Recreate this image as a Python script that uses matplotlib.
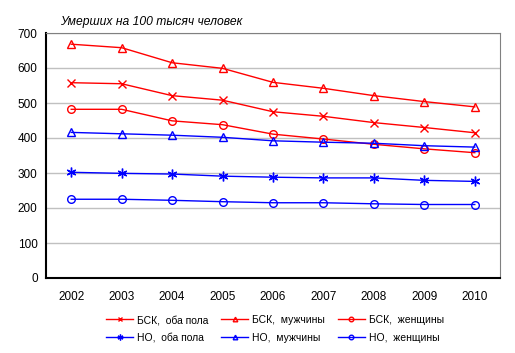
import numpy as np
import matplotlib.pyplot as plt

plt.rcParams['font.family'] = ['Liberation Sans', 'DejaVu Sans']

years = ['2002', '2003', '2004', '2005', '2006', '2007', '2008', '2009', '2010']

bsk_both = [558, 555, 521, 508, 475, 462, 444, 430, 415]
bsk_men = [668, 658, 615, 599, 559, 542, 521, 504, 489]
bsk_women = [482, 482, 449, 438, 411, 397, 382, 369, 358]
no_both = [302, 299, 297, 291, 288, 286, 286, 279, 276]
no_men = [416, 412, 408, 402, 392, 388, 385, 378, 374]
no_women = [225, 225, 222, 218, 215, 215, 212, 210, 210]

labels = ['БСК,  оба пола', 'БСК,  мужчины', 'БСК,  женщины',
          'НО,  оба пола', 'НО,  мужчины', 'НО,  женщины']

fig = plt.figure(figsize=(5.15, 3.53), dpi=100)
ax = fig.add_axes([46 / 515, 75 / 353, 454 / 515, 245 / 353])

x = np.arange(len(years))
red = '#FF0000'
blue = '#0000FF'

series = [
    (bsk_both, red, 'x', 6),
    (bsk_men, red, '^', 5.5),
    (bsk_women, red, 'o', 5.5),
    (no_both, blue, (6, 2, 0), 7),
    (no_men, blue, '^', 5.5),
    (no_women, blue, 'o', 5.5),
]

handles = []
for (vals, col, mk, ms), lab in zip(series, labels):
    h, = ax.plot(x, vals, color=col, lw=1, marker=mk, markersize=ms,
                 markerfacecolor='none', markeredgecolor=col, markeredgewidth=1, label=lab)
    handles.append(h)

ax.set_xlim(-0.5, len(years) - 0.5)
ax.set_ylim(0, 700)
ax.set_yticks(range(0, 701, 100))
ax.set_xticks(x)
ax.set_xticklabels(years)
ax.tick_params(axis='both', length=0, labelsize=8.5, pad=6)
ax.tick_params(axis='x', pad=9)
ax.grid(axis='y', color='#C0C0C0', lw=1)
ax.set_axisbelow(True)
for s in ['top', 'right']:
    ax.spines[s].set_color('#808080')
for s in ['left', 'bottom']:
    ax.spines[s].set_color('black')
    ax.spines[s].set_linewidth(1.5)

fig.text(60 / 515, 1 - 22 / 353, 'Умерших на 100 тысяч человек', fontsize=8.7,
         style='italic', va='center', ha='left')

# legend is filled column by column, so reorder to read row by row
order = [0, 3, 1, 4, 2, 5]
leg = fig.legend(handles=[handles[i] for i in order], loc='center', ncol=3,
                 bbox_to_anchor=(275 / 515, 1 - 329 / 353),
                 frameon=False, fontsize=7.5, handlelength=2.6, columnspacing=1.25,
                 handletextpad=0.35, labelspacing=0.75, markerscale=0.6)

fig.savefig('out.png', dpi=100)
